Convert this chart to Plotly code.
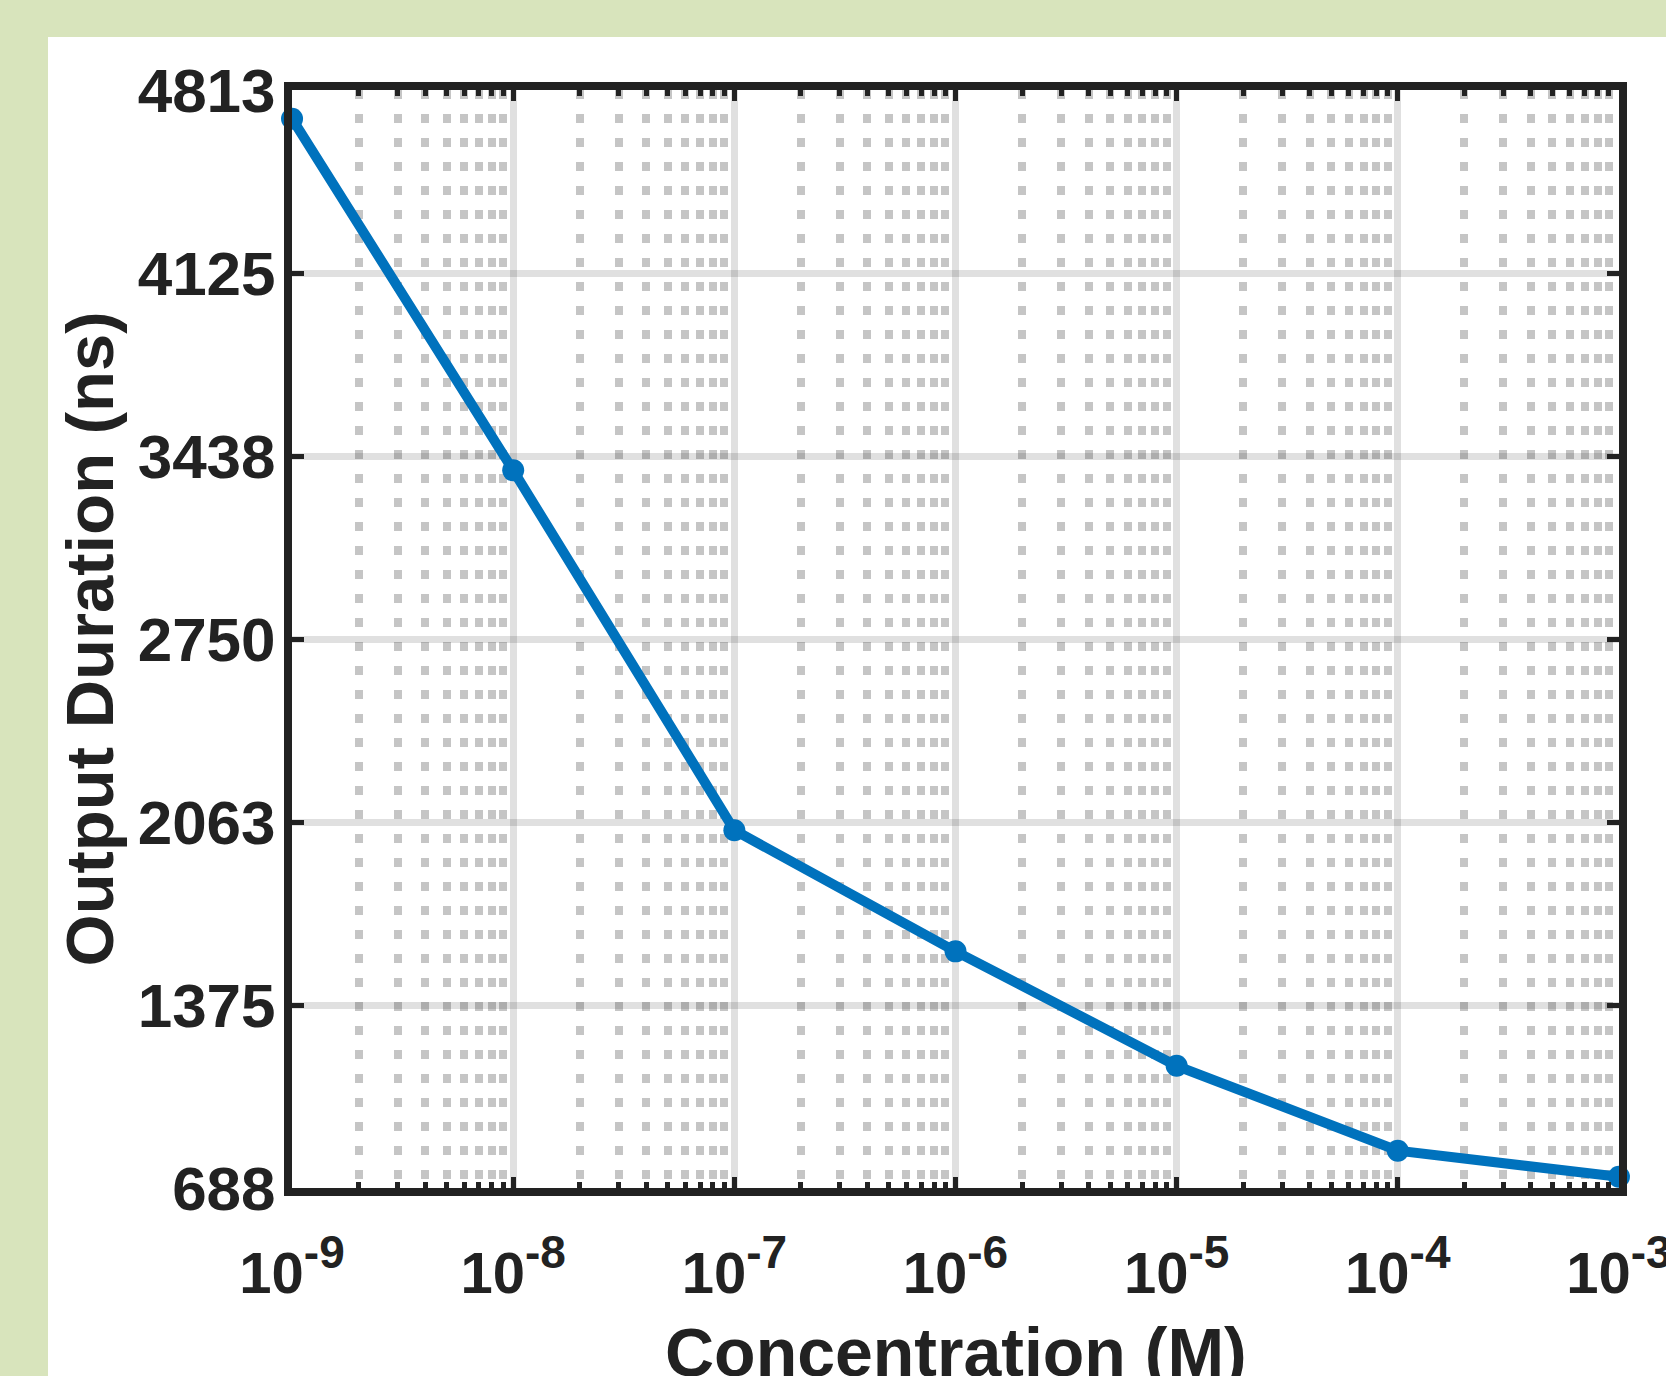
import plotly.graph_objects as go

# ---- data ----
concentration = [1e-9, 1e-8, 1e-7, 1e-6, 1e-5, 1e-4, 1e-3]
duration_ns = [4705, 3384, 2032, 1577, 1147, 828, 730]

y_tick_vals = [688, 1375.5, 2063, 2750.5, 3438, 4125.5, 4813]
y_tick_text = ["688", "1375", "2063", "2750", "3438", "4125", "4813"]
x_exponents = [-9, -8, -7, -6, -5, -4, -3]
x_tick_text = ['10<sup><span style="font-size:46px">-%d</span></sup>' % abs(e) for e in x_exponents]
x_tick_vals = [10.0 ** e for e in x_exponents]
minor_vals = [k * 10.0 ** e for e in x_exponents[:-1] for k in range(2, 10)]
x_title = "Concentration (M)"
y_title = "Output Duration (ns)"

GREEN = "#d8e4bc"
BLUE = "#0072BD"
INK = "#222222"
FONT = "Liberation Sans, Arial, sans-serif"

fig = go.Figure()
fig.add_trace(go.Scatter(
    x=concentration, y=duration_ns, mode="lines+markers",
    line=dict(color=BLUE, width=10),
    marker=dict(color=BLUE, size=22),
    cliponaxis=False, showlegend=False,
))

L, R, T, B = 292, 47, 90, 188
W, H = 1666, 1376
pw, ph = W - L - R, H - T - B

# white panel on the green page
fig.add_shape(type="rect", xref="paper", yref="paper",
              x0=(48 - L) / pw, x1=2, y0=-1, y1=(H - B - 37) / ph,
              fillcolor="white", line=dict(width=0), layer="below")

# x-axis title (placed as annotation so it can sit partly past the bottom edge)
fig.add_annotation(text=x_title, xref="paper", yref="paper", x=0.5, y=0,
                   xanchor="center", yanchor="top", yshift=-124, showarrow=False,
                   font=dict(size=68, family=FONT, weight="bold", color=INK))

fig.update_layout(
    width=W, height=H,
    margin=dict(l=L, r=R, t=T, b=B, autoexpand=False),
    paper_bgcolor=GREEN, plot_bgcolor="rgba(0,0,0,0)",
    font=dict(family=FONT, color=INK, size=62, weight="bold"),
)

fig.update_xaxes(
    type="log", range=[-9.0002, -2.9998],
    tickmode="array", tickvals=x_tick_vals, ticktext=x_tick_text,
    ticks="inside", ticklen=11, tickwidth=5, tickcolor=INK,
    showline=True, linewidth=8, linecolor=INK, mirror="allticks",
    showgrid=True, gridcolor="rgba(0,0,0,0.12)", gridwidth=7,
    tickfont=dict(size=58, family=FONT, weight="bold"),
    ticklabelstandoff=27, ticklabeloverflow="allow",
    minor=dict(tickmode="array", tickvals=minor_vals, ticks="inside", ticklen=6,
               tickwidth=5, tickcolor=INK, showgrid=True,
               gridcolor="rgba(140,140,140,0.5)", gridwidth=8, griddash="9px,15px"),
    zeroline=False,
)
fig.update_yaxes(
    range=[688, 4813],
    tickmode="array", tickvals=y_tick_vals, ticktext=y_tick_text,
    ticks="inside", ticklen=12, tickwidth=5, tickcolor=INK,
    showline=True, linewidth=8, linecolor=INK, mirror="allticks",
    showgrid=True, gridcolor="rgba(0,0,0,0.12)", gridwidth=7,
    tickfont=dict(size=62, family=FONT, weight="bold"),
    ticklabelstandoff=-4,
    title=dict(text=y_title, font=dict(size=67, family=FONT, weight="bold"),
               standoff=5),
    zeroline=False,
)

fig.write_html(
    "out.html",
    config={"displayModeBar": False},
    post_script="document.body.style.margin='0';document.body.style.overflow='hidden';",
)
